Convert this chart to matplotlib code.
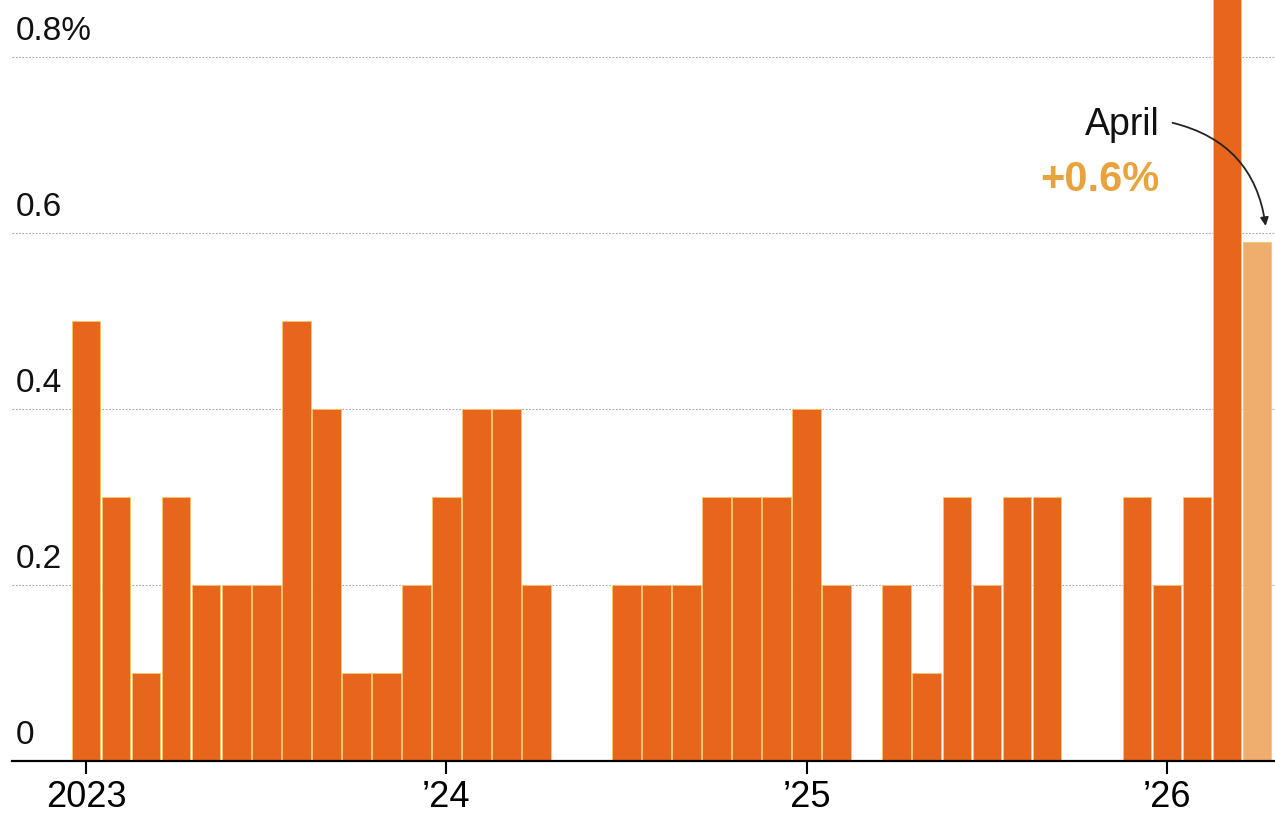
"""
Monthly change, Jan 2023 - Apr 2026, bars with April callout.
"""
import matplotlib
matplotlib.use("Agg")
import matplotlib.pyplot as plt
import numpy as np

OUT = "out.png"

plt.rcParams["font.family"] = ["Liberation Sans", "DejaVu Sans"]

# monthly values (%), Jan 2023 .. Apr 2026; nan = no data
months = [f"{y}-{m:02d}" for y in range(2023, 2027) for m in range(1, 13)][:40]
values = [0.5, 0.3, 0.1, 0.3, 0.2, 0.2, 0.2, 0.5, 0.4, 0.1, 0.1, 0.2,   # 2023
          0.3, 0.4, 0.4, 0.2, 0.0, 0.0, 0.2, 0.2, 0.2, 0.3, 0.3, 0.3,   # 2024
          0.4, 0.2, 0.0, 0.2, 0.1, 0.3, 0.2, 0.3, 0.3, np.nan, np.nan, 0.3,  # 2025
          0.2, 0.3, 0.9, 0.59]                                         # 2026
year_ticks = ["2023", "’24", "’25", "’26"]
yticks = [0, 0.2, 0.4, 0.6, 0.8]
ytick_labels = ["0", "0.2", "0.4", "0.6", "0.8%"]
callout_month = "April"
callout_value = "+0.6%"

ORANGE = "#E8661C"
LIGHT = "#F0AE6E"

fig = plt.figure(figsize=(12.75, 8.29), dpi=100)
ax = fig.add_axes([12 / 1275, 1 - 762 / 829, 1 - 12 / 1275, 762 / 829])

x = np.arange(len(values))
colors = [ORANGE] * (len(values) - 1) + [LIGHT]
ax.bar(x, values, width=0.95, color=colors, edgecolor="#F6C66A", linewidth=0.6, zorder=2)

ax.set_xlim(-2.47, 39.6)
ax.set_ylim(0, 0.866)

# gridlines + labels sitting above them
for v, lab in zip(yticks, ytick_labels):
    if v > 0:
        ax.axhline(v, color="#a5a5a5", lw=0.8, ls=(0, (1.5, 1.5)), zorder=1)
    ax.annotate(lab, (0, v), xycoords=("axes fraction", "data"),
                xytext=(3, 8), textcoords="offset points",
                ha="left", va="bottom", fontsize=24, color="#111")

ax.set_yticks([])
for s in ["left", "right", "top"]:
    ax.spines[s].set_visible(False)
ax.spines["bottom"].set_linewidth(1.6)
ax.spines["bottom"].set_zorder(3)

ax.set_xticks([months.index(f"{y}-01") for y in range(2023, 2027)])
ax.set_xticklabels(year_ticks, fontsize=26)
ax.tick_params(axis="x", length=9, width=1.5, pad=4)

# April callout
ax.text(35.75, 0.724, callout_month, fontsize=27, color="#111",
        ha="right", va="center")
ax.text(35.75, 0.662, callout_value, fontsize=30, color="#E9A33E",
        ha="right", va="center", fontweight="bold")
ax.annotate("", xy=(39.3, 0.605), xytext=(36.1, 0.726),
            arrowprops=dict(arrowstyle="-|>", color="#222", lw=1.3,
                            mutation_scale=12,
                            connectionstyle="arc3,rad=-0.35"))

fig.savefig(OUT, dpi=100)
print(f"figure saved: {OUT}")
